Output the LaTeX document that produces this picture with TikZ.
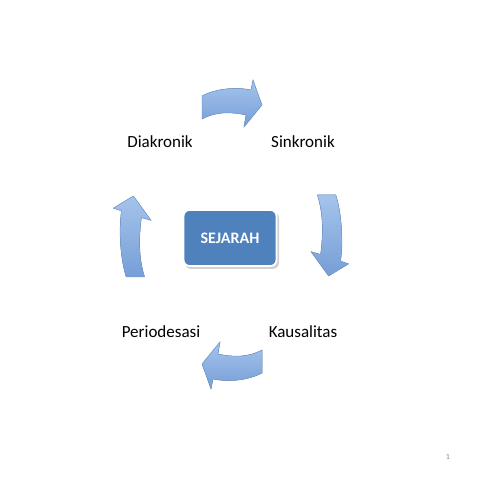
\documentclass[tikz,border=0pt]{standalone}
\usepackage{fontspec}
\setmainfont{Carlito}
\usepackage{xcolor}
\definecolor{boxblue}{RGB}{79,129,189}
\definecolor{arrowlight}{RGB}{165,196,236}
\definecolor{arrowdark}{RGB}{118,158,214}
\definecolor{pagegray}{RGB}{140,140,140}
\tikzset{
	label text/.style={font=\fontsize{17}{20}\selectfont, text=black},
	curvearrow/.pic={
		\fill[top color=arrowlight, bottom color=arrowdark, draw=arrowdark, line width=0.5pt]
			(0,-12) .. controls (15,-4) and (30,-5) .. (44,-8) -- (42,-20) -- (60,2)
			-- (51,27) -- (49,17) .. controls (35,20) and (15,19) .. (0,11) -- cycle;
	}
}

\begin{document}
\begin{tikzpicture}[x=1pt, y=1pt]
		\useasboundingbox (0,0) rectangle (480,480);
		\fill[white] (0,0) rectangle (480,480);

		\node[label text] (diakronik) at (160,338) {Diakronik};
		\node[label text] (sinkronik) at (303,338) {Sinkronik};
		\node[label text] (periodesasi) at (161,148) {Periodesasi};
		\node[label text] (kausalitas) at (303,148) {Kausalitas};

		\fill[black!18, rounded corners=6pt] (185,211) rectangle (279,268);
		\node[fill=boxblue, draw=white, line width=1.8pt, rounded corners=6pt,
			minimum width=93pt, minimum height=56pt, text=white,
			font=\fontsize{16}{19}\selectfont\bfseries] (sejarah) at (230,242) {SEJARAH};

		\pic at (202,373) {curvearrow};
		\pic[rotate=-90, xscale=1.35, yscale=0.8] at (327,285) {curvearrow};
		\pic[rotate=180] at (262,118) {curvearrow};
		\pic[rotate=90, xscale=1.35, yscale=0.8] at (135,203) {curvearrow};

		\node[text=pagegray, font=\fontsize{8}{9}\selectfont] (halaman) at (448,23) {1};
	\end{tikzpicture}
\end{document}
